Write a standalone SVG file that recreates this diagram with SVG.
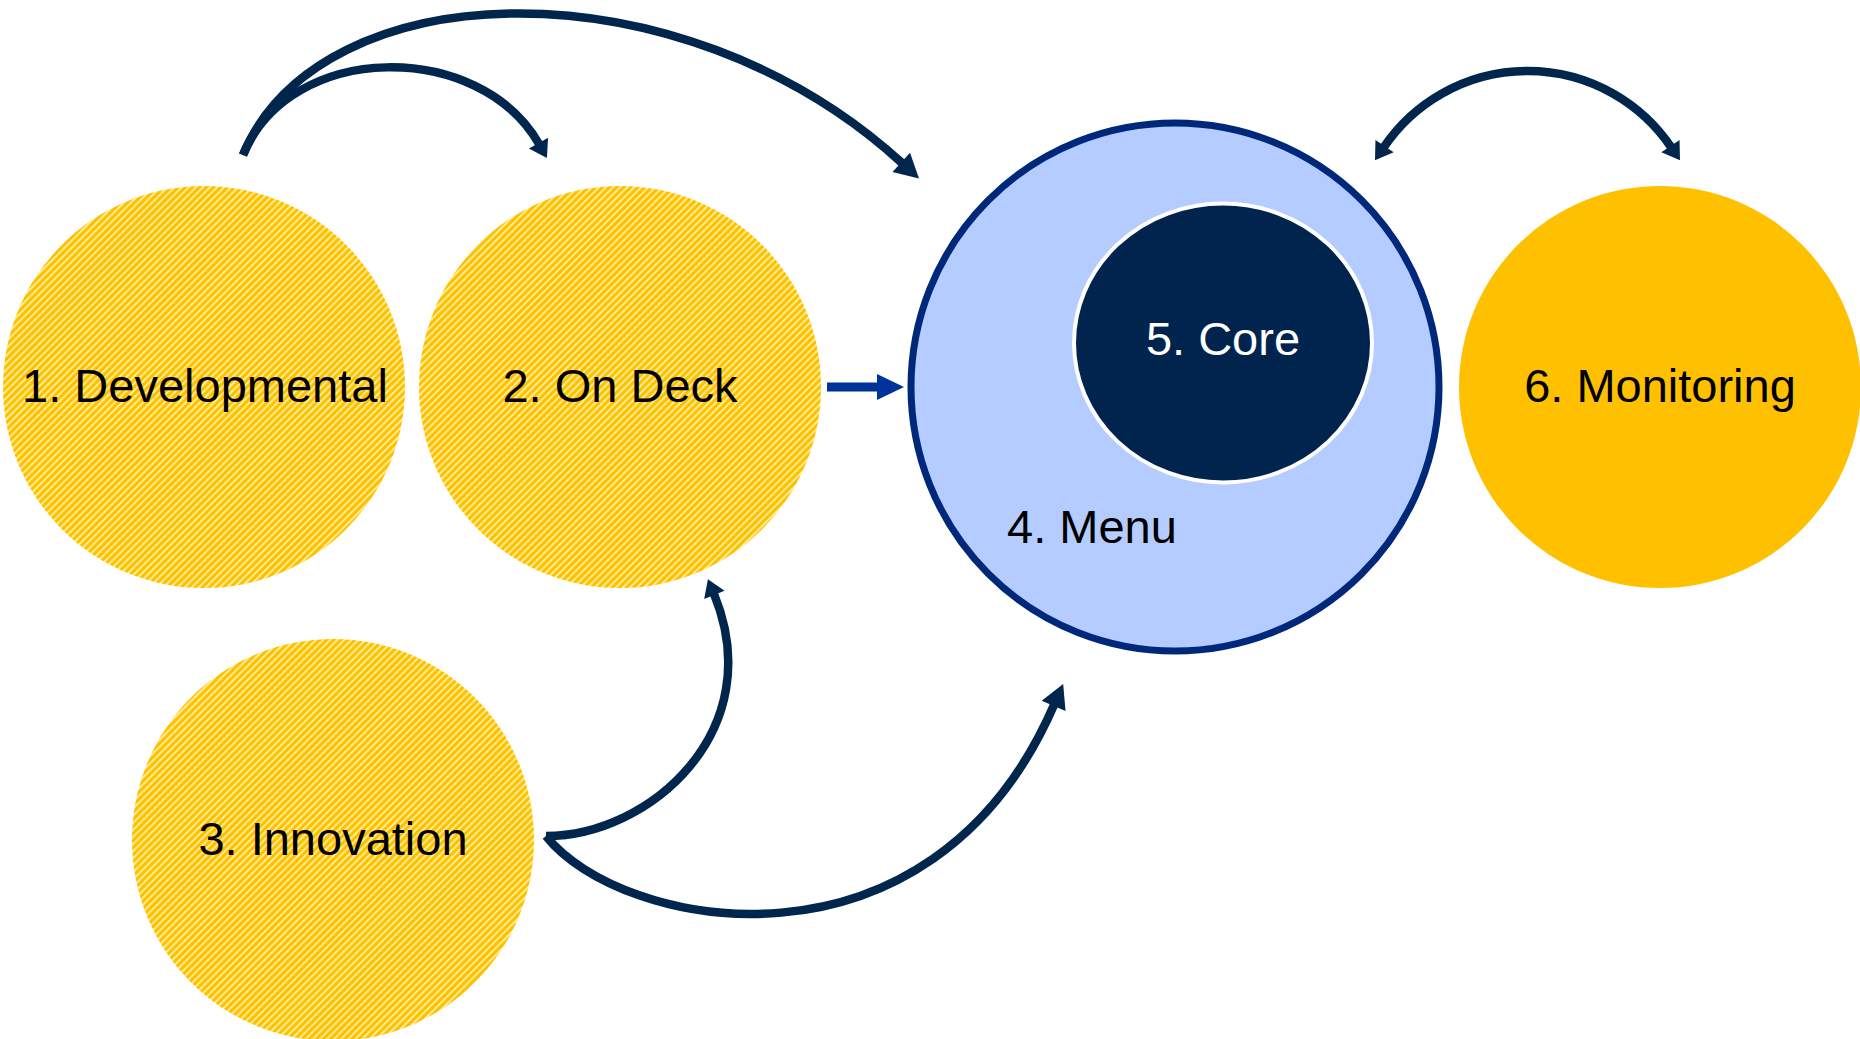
<svg xmlns="http://www.w3.org/2000/svg" width="1860" height="1039" viewBox="0 0 1860 1039">
<style>
.lbl{font-family:"Liberation Sans",Arial,sans-serif;font-size:47px;fill:#000;text-anchor:middle}
.wht{fill:#fff}
.arc{fill:none;stroke:#00264d;stroke-width:8.5}
</style>
<defs>
<pattern id="hatch" patternUnits="userSpaceOnUse" width="5" height="5" patternTransform="rotate(45)">
<rect width="5" height="5" fill="#ffc000"/>
<rect width="1.7" height="5" fill="#fff3a8"/>
</pattern>
<marker id="ah" markerUnits="userSpaceOnUse" viewBox="0 0 17 22" refX="1" refY="11" markerWidth="17" markerHeight="22" orient="auto-start-reverse" overflow="visible">
<path d="M0,0 L17,11 L0,22 z" fill="#00264d"/>
</marker>
<marker id="ahl" markerUnits="userSpaceOnUse" viewBox="0 0 24 26" refX="1" refY="13" markerWidth="24" markerHeight="26" orient="auto" overflow="visible">
<path d="M0,0 L24,13 L0,26 z" fill="#00264d"/>
</marker>
<marker id="ahb" markerUnits="userSpaceOnUse" viewBox="0 0 27 26" refX="1" refY="13" markerWidth="27" markerHeight="26" orient="auto">
<path d="M0,0 L27,13 L0,26 z" fill="#003399"/>
</marker>
</defs>
<g id="n1"><circle cx="204" cy="387" r="201" fill="url(#hatch)"/><text class="lbl" x="205" y="402">1. Developmental</text></g>
<g id="n2"><circle cx="620" cy="387" r="201" fill="url(#hatch)"/><text class="lbl" x="620" y="402">2. On Deck</text></g>
<g id="n3"><circle cx="333" cy="840" r="201" fill="url(#hatch)"/><text class="lbl" x="333" y="855">3. Innovation</text></g>
<g id="n4"><circle cx="1175" cy="387" r="264" fill="#b4ccff" stroke="#00287a" stroke-width="7"/><text class="lbl" x="1092" y="543">4. Menu</text></g>
<g id="n5"><ellipse cx="1223" cy="343" rx="149" ry="139.5" fill="#00244d" stroke="#fff" stroke-width="4"/><text class="lbl wht" x="1223" y="355">5. Core</text></g>
<g id="n6"><circle cx="1660" cy="387" r="201" fill="#ffc000"/><text class="lbl" x="1660" y="402">6. Monitoring</text></g>
<g id="connectors">
<path class="arc" d="M243,155 C290,40 480,40 539,144" marker-end="url(#ah)"/>
<path class="arc" d="M243,155 C320,-30 680,-40 902,163" marker-end="url(#ahl)"/>
<path class="arc" d="M1384,147 A173.5,173.5 0 0 1 1671,147" marker-start="url(#ah)" marker-end="url(#ah)"/>
<path d="M827,387 L878,387" fill="none" stroke="#003399" stroke-width="9" marker-end="url(#ahb)"/>
<path class="arc" d="M546,836 C650,836 770,730 714,594" marker-end="url(#ah)"/>
<path class="arc" d="M546,836 C620,930 930,990 1054,705" marker-end="url(#ahl)"/>
</g>
</svg>
